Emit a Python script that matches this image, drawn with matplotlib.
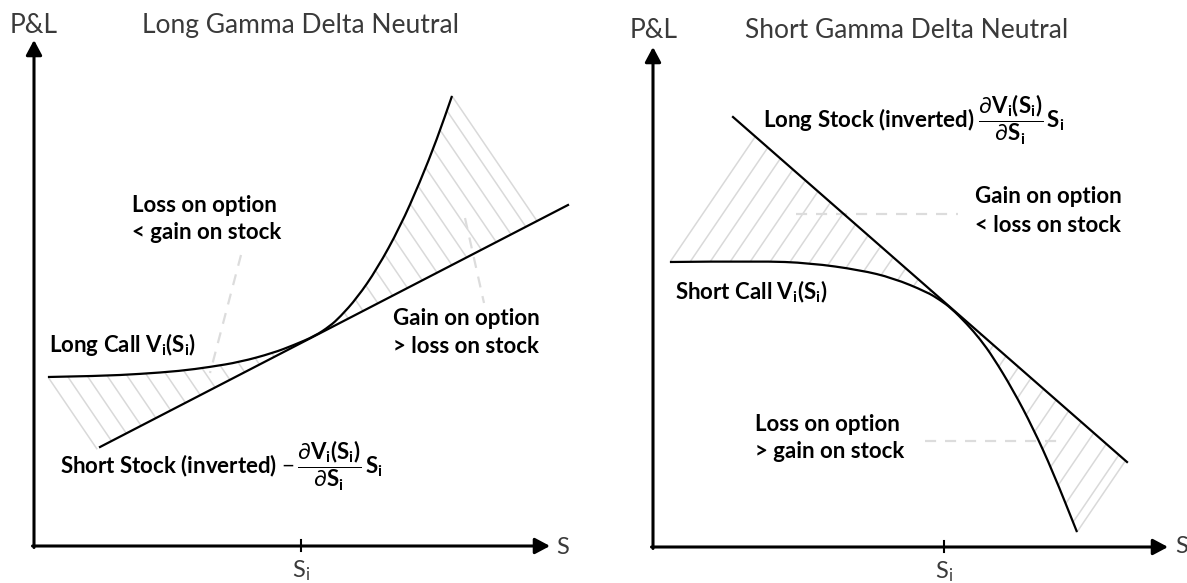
import numpy as np
import matplotlib.pyplot as plt
from matplotlib.patches import Polygon, PathPatch
from matplotlib.path import Path

plt.rcParams['font.family'] = ['Lato', 'DejaVu Sans']
plt.rcParams['mathtext.fontset'] = 'custom'
plt.rcParams['mathtext.rm'] = 'Lato'
plt.rcParams['mathtext.it'] = 'Lato:italic'
plt.rcParams['mathtext.bf'] = 'Lato:bold'

# left panel: long gamma (arbitrary units, origin at the axes corner)
long_call_s = [14, 66, 106, 146, 176, 206, 239, 260, 281, 296, 306, 323, 343, 366, 386, 403, 418]
long_call_pnl = [169, 170, 172, 175, 179, 184, 193, 201, 210, 220, 229, 248, 277, 319, 364, 407, 450]
short_stock_s = [66, 534]
short_stock_pnl = [99, 341]
left_strike = 267

# right panel: short gamma
short_call_s = [17, 107, 157, 207, 240, 274, 287, 298, 314, 327, 340, 360, 380, 400, 424]
short_call_pnl = [285, 286, 284, 277, 269, 255, 247, 239, 223, 208, 190, 157, 119, 75, 15]
long_stock_s = [80, 474]
long_stock_pnl = [430, 85]
right_strike = 291

HATCH = '#d9d9d9'
DASH = '#dcdcdc'


def smooth_curve(ax, xs, ys):
    # quadratic bezier through the midpoints, so the read points give a smooth stroke
    pts = np.column_stack([xs, ys]).astype(float)
    verts = [pts[0]]
    codes = [Path.MOVETO]
    for i in range(1, len(pts) - 1):
        verts += [pts[i], (pts[i] + pts[i + 1]) / 2]
        codes += [Path.CURVE3, Path.CURVE3]
    verts.append(pts[-1])
    codes.append(Path.LINETO)
    ax.add_patch(PathPatch(Path(verts, codes), fc='none', ec='black', lw=1.6, zorder=3))


def hatch_between(ax, cs, cp, ls, lp, dy, step=20, lean=0.68):
    # diagonal lines running from the option curve to the stock line
    m = (lp[1] - lp[0]) / (ls[1] - ls[0])

    def hit(xs, ys):
        t = (lp[0] + m * (xs - ls[0]) - ys) / (dy - m * lean)
        return xs + lean * t, ys + dy * t

    a = hit(cs[0], cp[0])
    b = hit(cs[-1], cp[-1])
    verts = list(zip(cs, cp)) + [b, a]
    patch = Polygon(verts, closed=True, fc='none', ec='none')
    ax.add_patch(patch)
    vx = np.array([v[0] for v in verts])
    vy = np.array([v[1] for v in verts])
    cvals = vx - lean * dy * vy
    c0 = cs[0] - lean * dy * cp[0]
    ys = np.array([vy.min() - 5, vy.max() + 5])
    c = c0 + step
    while c <= cvals.max():
        ln, = ax.plot(c + lean * dy * ys, ys, color=HATCH, lw=1.1, zorder=1)
        ln.set_clip_path(patch)
        c += step
    ax.plot([cs[0], a[0]], [cp[0], a[1]], color=HATCH, lw=1.1, zorder=1)
    ax.plot([cs[-1], b[0]], [cp[-1], b[1]], color=HATCH, lw=1.1, zorder=1)


def axes_frame(ax, xtip, ytip, strike):
    arrow = dict(arrowstyle='-|>,head_length=0.75,head_width=0.4', lw=2.2,
                 color='black', shrinkA=0, shrinkB=0, mutation_scale=12)
    ax.annotate('', xy=(xtip, 0), xytext=(-1.5, 0), arrowprops=arrow)
    ax.annotate('', xy=(0, ytip), xytext=(0, -1.5), arrowprops=arrow)
    ax.plot([strike, strike], [-5, 6], color='black', lw=1.5)


fig = plt.figure(figsize=(11.87, 5.83), dpi=100)
axL = fig.add_axes([0, 0, 600 / 1187, 1])
axR = fig.add_axes([600 / 1187, 0, 587 / 1187, 1])
axL.set_xlim(-34, 566)
axL.set_ylim(-37, 546)
axR.set_xlim(-53, 534)
axR.set_ylim(-36, 547)
for ax in (axL, axR):
    ax.axis('off')

bold = dict(fontsize=16, fontweight='bold', ha='left', va='baseline', color='black')
light = dict(fontsize=19, fontweight='normal', ha='left', va='baseline', color='#3a3a3a')
axis_lab = dict(fontsize=17, fontweight='normal', va='baseline', color='#3a3a3a')

sub_i = r'$_\mathbf{i}$'
frac = r'\dfrac{\partial\mathbf{V_i(S_i)}}{\partial\mathbf{S_i}}\,\mathbf{S_i}'

# ---- left panel
hatch_between(axL, long_call_s, long_call_pnl, short_stock_s, short_stock_pnl, dy=-1)
axL.plot([207, 176], [291, 173], color=DASH, lw=1.6, ls=(0, (5, 4)), zorder=1)
axL.plot([431, 450], [328, 243], color=DASH, lw=1.6, ls=(0, (5, 4)), zorder=1)
smooth_curve(axL, long_call_s, long_call_pnl)
axL.plot(short_stock_s, short_stock_pnl, color='black', lw=1.6, zorder=3)
axes_frame(axL, 516, 506, left_strike)

axL.text(-24, 513, 'P&L', **light)
axL.text(108, 513, 'Long Gamma Delta Neutral', **light)
axL.text(98, 334, 'Loss on option', **bold)
axL.text(98, 307, '< gain on stock', **bold)
axL.text(359, 221, 'Gain on option', **bold)
axL.text(359, 193, '> loss on stock', **bold)
axL.text(15, 194, 'Long Call V' + sub_i + '(S' + sub_i + ')', **bold)
axL.text(26, 72, 'Short Stock (inverted) $-\\,' + frac + '$', **bold)
axL.text(522, -8, 'S', ha='left', **axis_lab)
axL.text(left_strike, -31, r'S$_\mathrm{i}$', ha='center', **axis_lab)

# ---- right panel
hatch_between(axR, short_call_s, short_call_pnl, long_stock_s, long_stock_pnl, dy=1)
axR.plot([143, 305], [333, 333], color=DASH, lw=1.6, ls=(0, (5, 4)), zorder=1)
axR.plot([272, 409], [106, 106], color=DASH, lw=1.6, ls=(0, (5, 4)), zorder=1)
smooth_curve(axR, short_call_s, short_call_pnl)
axR.plot(long_stock_s, long_stock_pnl, color='black', lw=1.6, zorder=3)
axes_frame(axR, 515, 500, right_strike)

axR.text(-23, 509, 'P&L', **light)
axR.text(92, 509, 'Short Gamma Delta Neutral', **light)
axR.text(110, 419, 'Long Stock (inverted) $' + frac + '$', **bold)
axR.text(322, 344, 'Gain on option', **bold)
axR.text(322, 315, '< loss on stock', **bold)
axR.text(22, 248, 'Short Call V' + sub_i + '(S' + sub_i + ')', **bold)
axR.text(102, 116, 'Loss on option', **bold)
axR.text(102, 89, '> gain on stock', **bold)
axR.text(522, -6, 'S', ha='left', **axis_lab)
axR.text(right_strike, -31, r'S$_\mathrm{i}$', ha='center', **axis_lab)

fig.savefig('out.png', dpi=100)
